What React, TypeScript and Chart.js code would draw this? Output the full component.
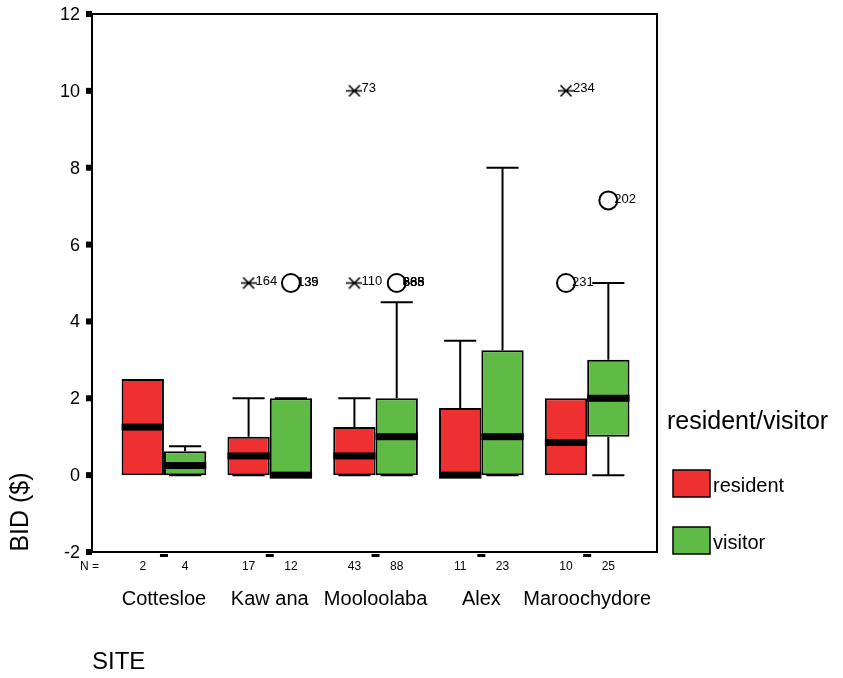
import { useEffect, useRef } from "react";
import { Chart, registerables } from "chart.js";
Chart.register(...registerables);

// ---- data ----
const sites = ["Cottesloe", "Kaw ana", "Mooloolaba", "Alex", "Maroochydore"];
const groups = ["resident", "visitor"];
const residentN = [2, 17, 43, 11, 10];
const visitorN = [4, 12, 88, 23, 25];
const residentQ1 = [0, 0, 0, 0, 0];
const residentMedian = [1.25, 0.5, 0.5, 0, 0.85];
const residentQ3 = [2.5, 1, 1.25, 1.75, 2];
const residentLow = [null, 0, 0, 0, null];
const residentHigh = [null, 2, 2, 3.5, null];
const visitorQ1 = [0, 0, 0, 0, 1];
const visitorMedian = [0.25, 0, 1, 1, 2];
const visitorQ3 = [0.625, 2, 2, 3.25, 3];
const visitorLow = [0, 0, 0, 0, 0];
const visitorHigh = [0.75, 2, 4.5, 8, 5];
const yTicks = [-2, 0, 2, 4, 6, 8, 10, 12];
// outliers (circles): site index, group index (0 resident, 1 visitor), value, case labels
const outlierSite = [4, 1, 2, 4];
const outlierGroup = [0, 1, 1, 1];
const outlierValue = [5, 5, 5, 7.15];
const outlierLabel = ["231", "135|139", "663|665|885|888", "202"];
// extremes (asterisks)
const extremeSite = [1, 2, 2, 4];
const extremeGroup = [0, 0, 0, 0];
const extremeValue = [5, 10, 5, 10];
const extremeLabel = ["164", "73", "110", "234"];

const RED = "#EE3130";
const GREEN = "#60BB46";
const FONT = '"Liberation Sans", Arial, sans-serif';
const CAT_PCT = 0.8;
const GROUP_OFFSET = CAT_PCT / 4;

const Ns = [residentN, visitorN];
const medians = [residentMedian, visitorMedian];
const q1s = [residentQ1, visitorQ1];
const q3s = [residentQ3, visitorQ3];
const lows = [residentLow, visitorLow];
const highs = [residentHigh, visitorHigh];
const colors = [RED, GREEN];

function makeAsterisk() {
  const c = document.createElement("canvas");
  c.width = 16;
  c.height = 13;
  const g = c.getContext("2d")!;
  g.strokeStyle = "#000";
  g.lineWidth = 1.7;
  g.beginPath();
  g.moveTo(2.5, 1);
  g.lineTo(13.5, 12);
  g.moveTo(13.5, 1);
  g.lineTo(2.5, 12);
  g.moveTo(0, 6.5);
  g.lineTo(16, 6.5);
  g.stroke();
  return c;
}

const boxPlugin = {
  id: "boxExtras",
  beforeDatasetsDraw(chart: any) {
    const ctx = chart.ctx;
    const y = chart.scales.y;
    ctx.save();
    ctx.strokeStyle = "#000";
    ctx.lineWidth = 2;
    for (let g = 0; g < 2; g++) {
      const meta = chart.getDatasetMeta(g);
      meta.data.forEach((el: any, i: number) => {
        const { x, width } = el.getProps(["x", "width"], true);
        const capHalf = width * 0.38;
        const segs: [number, number][] = [];
        if (highs[g][i] != null) segs.push([q3s[g][i], highs[g][i] as number]);
        if (lows[g][i] != null) segs.push([q1s[g][i], lows[g][i] as number]);
        segs.forEach(([from, to]) => {
          const p0 = y.getPixelForValue(from);
          const p1 = y.getPixelForValue(to);
          ctx.beginPath();
          ctx.moveTo(x, p0);
          ctx.lineTo(x, p1);
          ctx.moveTo(x - capHalf, p1);
          ctx.lineTo(x + capHalf, p1);
          ctx.stroke();
        });
      });
    }
    ctx.restore();
  },
  afterDatasetsDraw(chart: any) {
    const ctx = chart.ctx;
    const y = chart.scales.y;
    ctx.save();
    ctx.fillStyle = "#000";
    for (let g = 0; g < 2; g++) {
      const meta = chart.getDatasetMeta(g);
      meta.data.forEach((el: any, i: number) => {
        const { x, width } = el.getProps(["x", "width"], true);
        const py = y.getPixelForValue(medians[g][i]);
        ctx.fillRect(x - width / 2, py - 3.5, width, 7);
      });
    }
    ctx.font = `13px ${FONT}`;
    ctx.textBaseline = "middle";
    ctx.textAlign = "left";
    const om = chart.getDatasetMeta(2);
    om.data.forEach((el: any, k: number) => {
      outlierLabel[k].split("|").forEach((t) => ctx.fillText(t, el.x + 6, el.y - 1));
    });
    const em = chart.getDatasetMeta(3);
    em.data.forEach((el: any, k: number) => {
      extremeLabel[k].split("|").forEach((t) => ctx.fillText(t, el.x + 7, el.y - 2));
    });
    ctx.restore();
  },
  afterDraw(chart: any) {
    const ctx = chart.ctx;
    const { left, right, top, bottom } = chart.chartArea;
    const x = chart.scales.x;
    const y = chart.scales.y;
    ctx.save();
    ctx.strokeStyle = "#000";
    ctx.fillStyle = "#000";
    ctx.lineWidth = 2;
    ctx.strokeRect(left, top, right - left, bottom - top);
    // y ticks
    ctx.font = `18px ${FONT}`;
    ctx.textAlign = "right";
    ctx.textBaseline = "middle";
    yTicks.forEach((v) => {
      const py = y.getPixelForValue(v);
      ctx.fillRect(left - 6, py - 3, 6, 6);
      ctx.fillText(String(v), left - 12, py + 1);
    });
    // x ticks, N row, category labels
    ctx.textAlign = "center";
    sites.forEach((s, i) => {
      const px = x.getPixelForValue(i + 1);
      ctx.fillRect(px - 4, bottom + 2, 8, 3);
      ctx.font = `20px ${FONT}`;
      ctx.fillText(s, px, 599);
      ctx.font = `12px ${FONT}`;
      for (let g = 0; g < 2; g++) {
        const el = chart.getDatasetMeta(g).data[i];
        ctx.fillText(String(Ns[g][i]), el.x, 567);
      }
    });
    ctx.textAlign = "left";
    ctx.font = `12px ${FONT}`;
    ctx.fillText("N =", 80, 567);
    // axis titles
    ctx.font = `24px ${FONT}`;
    ctx.fillText("SITE", 92, 662);
    ctx.save();
    ctx.translate(21, 512);
    ctx.rotate(-Math.PI / 2);
    ctx.textAlign = "center";
    ctx.font = `25px ${FONT}`;
    ctx.fillText("BID ($)", 0, 0);
    ctx.restore();
    // legend
    ctx.textBaseline = "alphabetic";
    ctx.textAlign = "left";
    ctx.font = `25px ${FONT}`;
    ctx.fillText("resident/visitor", 667, 429);
    ctx.font = `20px ${FONT}`;
    groups.forEach((gname, g) => {
      const top0 = 470 + g * 57;
      ctx.fillStyle = colors[g];
      ctx.fillRect(673, top0, 37, 27);
      ctx.lineWidth = 1.5;
      ctx.strokeStyle = "#000";
      ctx.strokeRect(673, top0, 37, 27);
      ctx.fillStyle = "#000";
      ctx.fillText(gname, 713, top0 + 22);
    });
    ctx.restore();
  },
};

export default function App() {
  const ref = useRef<HTMLCanvasElement>(null);
  useEffect(() => {
    const asterisk = makeAsterisk();
    const barData = (q1: number[], q3: number[]) =>
      sites.map((_, i) => ({ x: i + 1, y: [q1[i], q3[i]] }));
    const chart = new Chart(ref.current!, {
      type: "bar",
      data: {
        datasets: [
          {
            type: "bar",
            label: groups[0],
            data: barData(residentQ1, residentQ3) as any,
            backgroundColor: RED,
            borderColor: "#000",
            borderWidth: 2,
            borderSkipped: false,
            categoryPercentage: CAT_PCT,
            barPercentage: 1,
          },
          {
            type: "bar",
            label: groups[1],
            data: barData(visitorQ1, visitorQ3) as any,
            backgroundColor: GREEN,
            borderColor: "#000",
            borderWidth: 2,
            borderSkipped: false,
            categoryPercentage: CAT_PCT,
            barPercentage: 1,
          },
          {
            type: "scatter",
            label: "outliers",
            data: outlierSite.map((s, k) => ({
              x: s + 1 + (outlierGroup[k] === 0 ? -GROUP_OFFSET : GROUP_OFFSET),
              y: outlierValue[k],
            })),
            pointStyle: "circle",
            radius: 9,
            borderWidth: 2,
            borderColor: "#000",
            backgroundColor: "rgba(0,0,0,0)",
          } as any,
          {
            type: "scatter",
            label: "extremes",
            data: extremeSite.map((s, k) => ({
              x: s + 1 + (extremeGroup[k] === 0 ? -GROUP_OFFSET : GROUP_OFFSET),
              y: extremeValue[k],
            })),
            pointStyle: asterisk,
            radius: 8,
          } as any,
        ],
      },
      options: {
        responsive: false,
        animation: false,
        devicePixelRatio: 1,
        layout: { padding: { left: 92, top: 14, right: 186, bottom: 126 } },
        plugins: { legend: { display: false }, tooltip: { enabled: false } },
        scales: {
          x: {
            type: "linear",
            min: 0.32,
            max: 5.66,
            offset: false,
            display: false,
            afterBuildTicks: (s: any) => {
              s.ticks = sites.map((_, i) => ({ value: i + 1 }));
            },
          },
          y: { type: "linear", min: -2, max: 12, display: false },
        },
      },
      plugins: [boxPlugin as any],
    });
    return () => chart.destroy();
  }, []);
  return (
    <div style={{ position: "absolute", left: 0, top: 0, width: 843, height: 678, background: "#fff" }}>
      <canvas ref={ref} width={843} height={678} style={{ display: "block" }} />
    </div>
  );
}
